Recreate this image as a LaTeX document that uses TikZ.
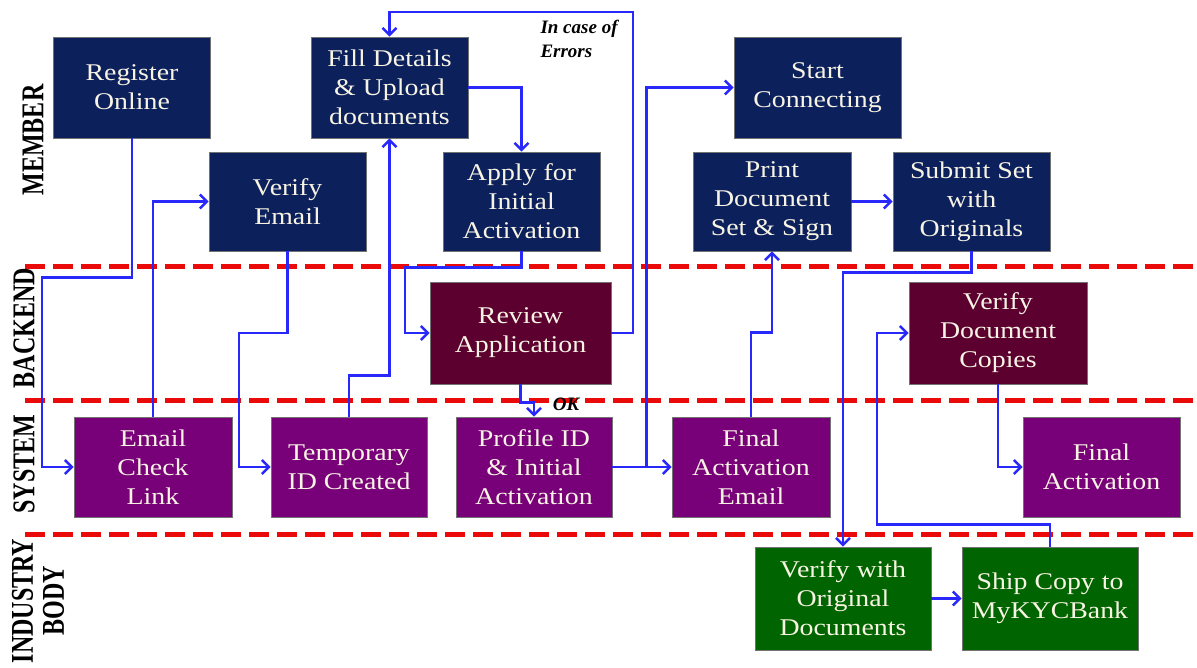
\documentclass[tikz,border=0pt]{standalone}
\usepackage{fontspec}
\setmainfont[FakeStretch=1.16]{Liberation Serif}
\newfontfamily\lanefont{Liberation Serif}
\usetikzlibrary{arrows.meta}
\definecolor{navy}{RGB}{12,32,92}
\definecolor{maroonb}{RGB}{92,0,48}
\definecolor{purp}{RGB}{120,0,120}
\definecolor{grn}{RGB}{0,100,0}
\definecolor{arrowblue}{RGB}{40,40,250}
\definecolor{lanered}{RGB}{235,10,10}
\definecolor{txt}{RGB}{248,244,228}
\tikzset{
  box/.style={draw=black!55, line width=0.6pt, text=txt, align=center,
    font=\fontsize{24}{29}\selectfont, inner sep=2pt, minimum height=101pt},
  mem/.style={box, fill=navy, minimum width=157pt},
  back/.style={box, fill=maroonb, minimum width=181pt},
  sys/.style={box, fill=purp, minimum width=157pt},
  ind/.style={box, fill=grn, minimum width=176pt, minimum height=103pt},
  conn/.style={draw=arrowblue, line width=2.6pt, line join=miter,
    -{Straight Barb[length=7pt,width=14pt,line width=2.6pt]}},
  laneline/.style={draw=lanered, line width=5pt, dash pattern=on 20pt off 8pt},
  lane/.style={font=\lanefont\bfseries\fontsize{24}{31}\selectfont, rotate=90, align=center},
  note/.style={font=\lanefont\bfseries\itshape\fontsize{19}{24}\selectfont, align=left}
}
\newcommand{\tallx}[1]{\scalebox{1}[1.32]{#1}}
\begin{document}
\begin{tikzpicture}[x=1pt,y=-1pt]
\useasboundingbox (0,0) rectangle (1197,667);
\fill[white] (0,0) rectangle (1197,667);
% lane separators
\coordinate (l1a) at (25,266); \coordinate (l1b) at (1197,266);
\coordinate (l2a) at (25,400); \coordinate (l2b) at (1197,400);
\coordinate (l3a) at (25,534); \coordinate (l3b) at (1197,534);
\draw[laneline] (l1a) -- (l1b);
\draw[laneline] (l2a) -- (l2b);
\draw[laneline] (l3a) -- (l3b);
% lane labels
\node[lane] (lmem) at (33,140) {\tallx{MEMBER}};
\node[lane] (lback) at (24,328) {\tallx{BACKEND}};
\node[lane] (lsys) at (24,464) {\tallx{SYSTEM}};
\node[lane] (lind) at (38,601) {\tallx{INDUSTRY}\\\tallx{BODY}};
% member row
\node[mem] (reg) at (132,87.5) {Register\\Online};
\node[mem] (fill) at (389.5,87.5) {Fill Details\\\& Upload\\documents};
\node[mem, minimum width=167pt] (start) at (817.5,87.5) {Start\\Connecting};
\node[mem, minimum height=99pt] (verify) at (287.5,201.5) {Verify\\Email};
\node[mem, minimum height=99pt] (apply) at (521.5,201.5) {Apply for\\Initial\\Activation};
\node[mem, minimum height=99pt, minimum width=158pt] (print) at (772,201.5) {Print\\Document\\Set \& Sign};
\node[mem, minimum height=99pt] (submit) at (971.5,201.5) {Submit Set\\with\\Originals};
% backend row
\node[back, minimum height=102pt] (review) at (520.5,333) {Review\\Application};
\node[back, minimum height=102pt, minimum width=178pt] (vdc) at (998,333) {Verify\\Document\\Copies};
% system row
\node[sys, minimum height=100pt, minimum width=158pt] (email) at (153,467) {Email\\Check\\Link};
\node[sys, minimum height=100pt, minimum width=156pt] (temp) at (349,467) {Temporary\\ID Created};
\node[sys, minimum height=100pt, minimum width=156pt] (profile) at (534,467) {Profile ID\\\& Initial\\Activation};
\node[sys, minimum height=100pt, minimum width=158pt] (fae) at (751,467) {Final\\Activation\\Email};
\node[sys, minimum height=100pt] (final) at (1101.5,467) {Final\\Activation};
% industry row
\node[ind] (vorig) at (843,598.5) {Verify with\\Original\\Documents};
\node[ind] (ship) at (1050,598.5) {Ship Copy to\\MyKYCBank};
% notes
\node[note, anchor=north west] (err) at (537,17) {In case of\\Errors};
\node[note] (ok) at (566,404) {OK};
% connectors
\draw[conn] (reg.south) -- ++(0,139) -| (42,467) -- (email.west);
\draw[conn] (email.north) |- (verify.west);
\draw[conn] (verify.south) |- (239,333) |- (temp.west);
\draw[conn] (temp.north) -- ++(0,-41) -| (fill.south);
\draw[conn] (fill.east) -| (apply.north);
\draw[conn] (apply.south) -- ++(0,16) -| (405,333) -- (review.west);
\draw[conn] (review.east) -| (633,12) -| (fill.north);
\draw[conn] (review.south) -- ++(0,18) -| (profile.north);
\draw[conn] (profile.east) -- (fae.west);
\draw[conn] (profile.east) -- ++(34,0) |- (start.west);
\draw[conn] (fae.north) -- ++(0,-84) -| (print.south);
\draw[conn] (print.east) -- (submit.west);
\draw[conn] (submit.south) -- ++(0,21) -| (vorig.north);
\draw[conn] (vdc.south) |- (final.west);
\draw[conn] (vorig.east) -- (ship.west);
\draw[conn] (ship.north) -- ++(0,-22) -| (877,333) -- (vdc.west);
\end{tikzpicture}
\end{document}
